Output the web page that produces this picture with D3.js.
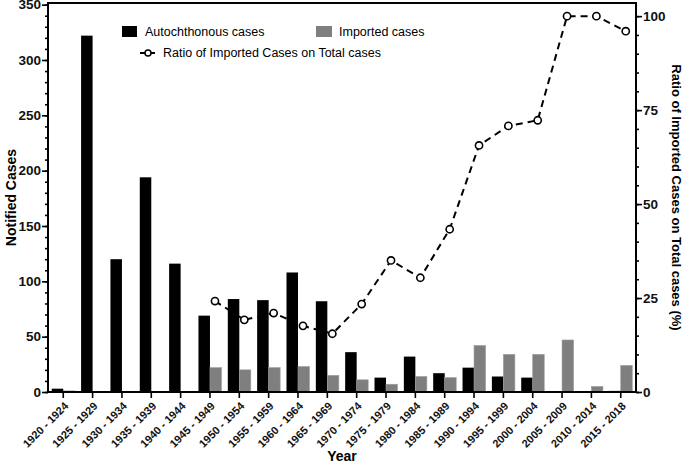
<!DOCTYPE html>
<html>
<head>
<meta charset="utf-8">
<script src="https://cdn.jsdelivr.net/npm/d3@7/dist/d3.min.js"></script>
<style>
  body { margin: 0; background: #fff; }
  svg { display: block; font-family: "Liberation Sans", Arial, sans-serif; }
  .tick-lbl { font-weight: bold; fill: #111; }
</style>
</head>
<body>
<div id="chart"></div>
<script>
/* chart data */
const periods = ['1920 - 1924', '1925 - 1929', '1930 - 1934', '1935 - 1939', '1940 - 1944',
    '1945 - 1949', '1950 - 1954', '1955 - 1959', '1960 - 1964', '1965 - 1969',
    '1970 - 1974', '1975 - 1979', '1980 - 1984', '1985 - 1989', '1990 - 1994',
    '1995 - 1999', '2000 - 2004', '2005 - 2009', '2010 - 2014', '2015 - 2018'];
const autochthonous = [3, 322, 120, 194, 116, 69, 84, 83, 108, 82, 36, 13, 32, 17, 22, 14, 13, 0, 0, 1];
const imported = [1, 0, 0, 0, 0, 22, 20, 22, 23, 15, 11, 7, 14, 13, 42, 34, 34, 47, 5, 24];
const ratio = [null, null, null, null, null, 24.2, 19.2, 21.0, 17.6, 15.5, 23.4, 35.0, 30.4, 43.3, 65.6, 70.8, 72.3, 100, 100, 96];
const leftTicks = [0, 50, 100, 150, 200, 250, 300, 350];
const rightTicks = [0, 25, 50, 75, 100];

const W = 694, H = 465;
const plot = {left: 48, right: 636, top: 3, bottom: 392};

const svg = d3.select('#chart').append('svg')
    .attr('width', W)
    .attr('height', H);

const x = d3.scaleBand().domain(periods).range([plot.left, plot.right])
    .paddingInner(0).paddingOuter(0.02);
const y = d3.scaleLinear().domain([0, 351.5]).range([plot.bottom, plot.top]);
const yR = d3.scaleLinear().domain([0, 103.5]).range([plot.bottom, plot.top]);

const barW = 11.5;
const cx = d => x(d) + x.bandwidth() / 2;

// bars
const bars = svg.append('g').attr('class', 'bars');
bars.selectAll('.auto')
    .data(periods)
    .enter().append('rect')
    .attr('class', 'auto')
    .attr('x', d => cx(d) - barW)
    .attr('width', barW)
    .attr('y', (d, i) => y(autochthonous[i]))
    .attr('height', (d, i) => plot.bottom - y(autochthonous[i]))
    .style('fill', '#000');

bars.selectAll('.imp')
    .data(periods)
    .enter().append('rect')
    .attr('class', 'imp')
    .attr('x', d => cx(d))
    .attr('width', barW)
    .attr('y', (d, i) => y(imported[i]))
    .attr('height', (d, i) => plot.bottom - y(imported[i]))
    .style('fill', '#7f7f7f')
    .style('stroke', '#9a9a9a')
    .style('stroke-width', 0.6);

// ratio line
const pts = periods.map((p, i) => ({p, r: ratio[i]})).filter(d => d.r !== null);
const line = d3.line().x(d => cx(d.p) + 5).y(d => yR(d.r));
svg.append('path')
    .datum(pts)
    .attr('d', line)
    .style('fill', 'none')
    .style('stroke', '#000')
    .style('stroke-width', 2)
    .style('stroke-dasharray', '7,5');
svg.selectAll('.pt')
    .data(pts)
    .enter().append('circle')
    .attr('class', 'pt')
    .attr('cx', d => cx(d.p) + 5)
    .attr('cy', d => yR(d.r))
    .attr('r', 3.6)
    .style('fill', '#fff')
    .style('stroke', '#000')
    .style('stroke-width', 1.6);

// axes
const axisStyle = g => {
    g.select('.domain').remove();
    g.selectAll('.tick line').style('stroke', '#000').style('stroke-width', 1.6);
};

const leftMinor = d3.range(0, 351, 10);
svg.append('g')
    .attr('transform', `translate(${plot.left},0)`)
    .call(d3.axisLeft(y).tickValues(leftMinor).tickSize(3).tickFormat(''))
    .call(axisStyle);
svg.append('g')
    .attr('transform', `translate(${plot.left},0)`)
    .call(d3.axisLeft(y).tickValues(leftTicks).tickSize(6).tickPadding(1))
    .call(axisStyle)
    .selectAll('text')
    .attr('class', 'tick-lbl')
    .style('font-size', '13.5px');

const rightMinor = d3.range(0, 101, 5);
svg.append('g')
    .attr('transform', `translate(${plot.right},0)`)
    .call(d3.axisRight(yR).tickValues(rightMinor).tickSize(3).tickFormat(''))
    .call(axisStyle);
svg.append('g')
    .attr('transform', `translate(${plot.right},0)`)
    .call(d3.axisRight(yR).tickValues(rightTicks).tickSize(6).tickPadding(1))
    .call(axisStyle)
    .selectAll('text')
    .attr('class', 'tick-lbl')
    .style('font-size', '13.5px');

svg.append('g')
    .attr('transform', `translate(0,${plot.bottom})`)
    .call(d3.axisBottom(x).tickSize(6).tickFormat(''))
    .call(axisStyle);

// rotated category labels
svg.append('g').attr('class', 'x-labels')
    .selectAll('text')
    .data(periods)
    .enter().append('text')
    .attr('class', 'tick-lbl')
    .attr('transform', d => `translate(${cx(d) + 3},${plot.bottom + 12}) rotate(-45)`)
    .attr('dy', '0.35em')
    .style('text-anchor', 'end')
    .style('font-size', '11px')
    .text(d => d);

// frame
svg.append('rect')
    .attr('x', plot.left)
    .attr('y', plot.top)
    .attr('width', plot.right - plot.left)
    .attr('height', plot.bottom - plot.top)
    .style('fill', 'none')
    .style('stroke', '#000')
    .style('stroke-width', 2);

// axis titles
svg.append('text')
    .attr('transform', `translate(16,${(plot.top + plot.bottom) / 2}) rotate(-90)`)
    .style('text-anchor', 'middle')
    .style('font-weight', 'bold')
    .style('font-size', '14px')
    .text('Notified Cases');

svg.append('text')
    .attr('transform', `translate(672,${(plot.top + plot.bottom) / 2}) rotate(90)`)
    .style('text-anchor', 'middle')
    .style('font-weight', 'bold')
    .style('font-size', '13px')
    .text('Ratio of Imported Cases on Total cases (%)');

svg.append('text')
    .attr('x', 342)
    .attr('y', 461)
    .style('text-anchor', 'middle')
    .style('font-weight', 'bold')
    .style('font-size', '14px')
    .text('Year');

// legend
const legend = svg.append('g').attr('class', 'legend').style('font-size', '12.5px');
legend.append('rect').attr('x', 122).attr('y', 26).attr('width', 15).attr('height', 11).style('fill', '#000');
legend.append('text').attr('x', 145).attr('y', 36).text('Autochthonous cases');
legend.append('rect').attr('x', 316).attr('y', 26).attr('width', 16).attr('height', 11).style('fill', '#7f7f7f');
legend.append('text').attr('x', 339).attr('y', 36).text('Imported cases');
legend.append('line').attr('x1', 140).attr('x2', 155).attr('y1', 53).attr('y2', 53)
    .style('stroke', '#000').style('stroke-width', 2);
legend.append('circle').attr('cx', 148).attr('cy', 53).attr('r', 3)
    .style('fill', '#fff').style('stroke', '#000').style('stroke-width', 1.5);
legend.append('text').attr('x', 163).attr('y', 57).text('Ratio of Imported Cases on Total cases');
</script>
</body>
</html>
